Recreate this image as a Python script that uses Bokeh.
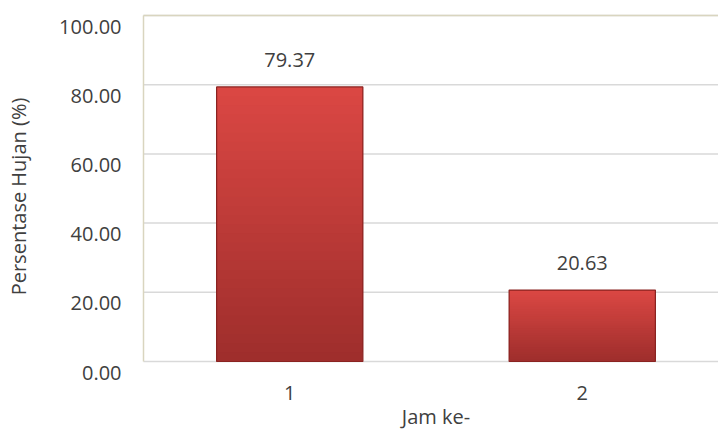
import math
from bokeh.plotting import figure
from bokeh.models import ColumnDataSource, Range1d
from bokeh.core.properties import value
from bokeh.embed import file_html
from bokeh.resources import INLINE

# data
categories = [1, 2]
cat_labels = ["1", "2"]
percent = [79.37, 20.63]
value_labels = ["79.37", "20.63"]
y_ticks = [0, 20, 40, 60, 80, 100]
y_tick_labels = ["0.00", "20.00", "40.00", "60.00", "80.00", "100.00"]
x_title = "Jam ke-"
y_title = "Persentase Hujan (%)"

FONT = "Open Sans"
TXT = "#404040"
FS = "20px"
GRID = "#d9d9d9"
BEIGE = "#d9d5bf"

# plot-area geometry: the scale frame covers the whole canvas, the chart's
# plot area starts 143px from the left and runs from y=15 (100) to y=361 (0)
PX_PER_CAT = 292.5
PX_PER_PCT = 3.46
X0 = 0.5
X_START = X0 - 143 / PX_PER_CAT
X_END = X0 + (718 - 143) / PX_PER_CAT
Y_START = -(430 - 361) / PX_PER_PCT
Y_END = 100 + 15 / PX_PER_PCT

p = figure(width=718, height=430, output_backend="svg", toolbar_location=None,
           x_range=Range1d(X_START, X_END), y_range=Range1d(Y_START, Y_END),
           x_axis_location=None, y_axis_location=None,
           min_border=0)
p.outline_line_color = None
p.background_fill_color = "white"
p.xgrid.visible = False
p.ygrid.visible = False

# gridlines, top border and left axis line
p.segment(x0=[X0] * len(y_ticks), x1=[X_END + 1] * len(y_ticks), y0=y_ticks, y1=y_ticks,
          line_color=GRID, line_width=1.5)
p.segment(x0=[X0], x1=[X_END + 1], y0=[y_ticks[-1]], y1=[y_ticks[-1]], line_color=BEIGE, line_width=1.5)
p.segment(x0=[X0], x1=[X0], y0=[y_ticks[0]], y1=[y_ticks[-1]], line_color=BEIGE, line_width=1.5)

# gradient bars built from data (overlapping slices avoid seams)
n = 30
top_c = (0xDC, 0x48, 0x44)
bot_c = (0x9E, 0x2E, 0x2C)
xs, bots, tops, cols = [], [], [], []
for c, v in zip(categories, percent):
    for i in range(n):
        xs.append(c)
        bots.append(v * i / n)
        tops.append(v)
        t = (i + 0.5) / n
        rgb = tuple(int(bot_c[k] + (top_c[k] - bot_c[k]) * t) for k in range(3))
        cols.append("#%02x%02x%02x" % rgb)
p.vbar(x=xs, bottom=bots, top=tops, width=0.5, fill_color=cols, line_color=None)
p.vbar(x=categories, top=percent, width=0.5, fill_color=None, line_color="#8a2321", line_width=1.2)

txt = dict(text_font=value(FONT), text_font_size=FS, text_color=TXT)

# value labels above bars
src = ColumnDataSource(dict(x=categories, y=percent, t=value_labels))
p.text(x="x", y="y", text="t", source=src, text_align="center", text_baseline="bottom",
       y_offset=-20, **txt)

# category labels and x title
csrc = ColumnDataSource(dict(x=categories, y=[0] * len(categories), t=cat_labels))
p.text(x="x", y="y", text="t", source=csrc, text_align="center", text_baseline="middle",
       y_offset=31, **txt)
p.text(x=[(categories[0] + categories[-1]) / 2], y=[0], text=[x_title], text_align="center",
       text_baseline="middle", y_offset=55, **txt)

# y tick labels (sit ~11px below their gridlines, as in the reference)
ysrc = ColumnDataSource(dict(x=[X0] * len(y_ticks), y=y_ticks, t=y_tick_labels))
p.text(x="x", y="y", text="t", source=ysrc, text_align="right", text_baseline="middle",
       x_offset=-22, y_offset=11, **txt)

# y title
p.text(x=[X0], y=[(y_ticks[0] + y_ticks[-1]) / 2], text=[y_title], angle=math.pi / 2,
       text_align="center", text_baseline="middle", x_offset=-125, y_offset=8, **txt)

open("out.html", "w").write(file_html(p, INLINE))
